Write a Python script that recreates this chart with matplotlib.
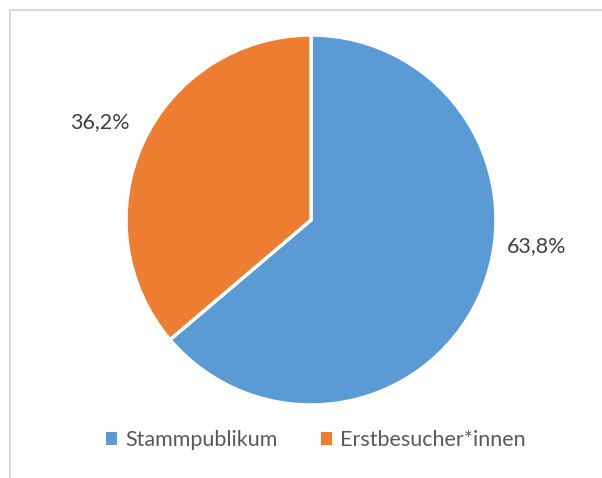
import matplotlib.pyplot as plt
from matplotlib.patches import Rectangle, Patch

categories = ['Stammpublikum', 'Erstbesucher*innen']
values = [63.8, 36.2]
colors = ['#5B9BD5', '#ED7D31']

plt.rcParams['font.family'] = ['Lato', 'DejaVu Sans']

fig = plt.figure(figsize=(6.02, 4.78), dpi=100)
ax = fig.add_axes([0, 0, 1, 1])

# chart frame (only top/left visible in reference)
ax.add_patch(Rectangle((9.5, -20), 700, 478 - 9.5 + 20, fill=False,
                       edgecolor='#D9D9D9', linewidth=1.5))

ax.pie(values, colors=colors, startangle=90, counterclock=False,
       center=(311, 258), radius=185, frame=True,
       wedgeprops=dict(edgecolor='white', linewidth=2.5))
ax.set_xlim(0, 602)
ax.set_ylim(0, 478)
ax.set_aspect('equal')
ax.axis('off')

# data labels
label_pos = [(537, 232), (100, 356)]
for v, (x, y) in zip(values, label_pos):
    ax.text(x, y, f'{v:.1f}%'.replace('.', ','), ha='center', va='center',
            fontsize=15.5, color='#404040')

handles = [Patch(facecolor=c, edgecolor='none') for c in colors]
fig.legend(handles, categories, loc='center', bbox_to_anchor=(0.525, 0.079),
           ncol=2, frameon=False, fontsize=15.5, handlelength=0.5,
           handleheight=0.5, handletextpad=0.4, columnspacing=2.0,
           labelcolor='#595959')

fig.savefig('out.png', dpi=100)
